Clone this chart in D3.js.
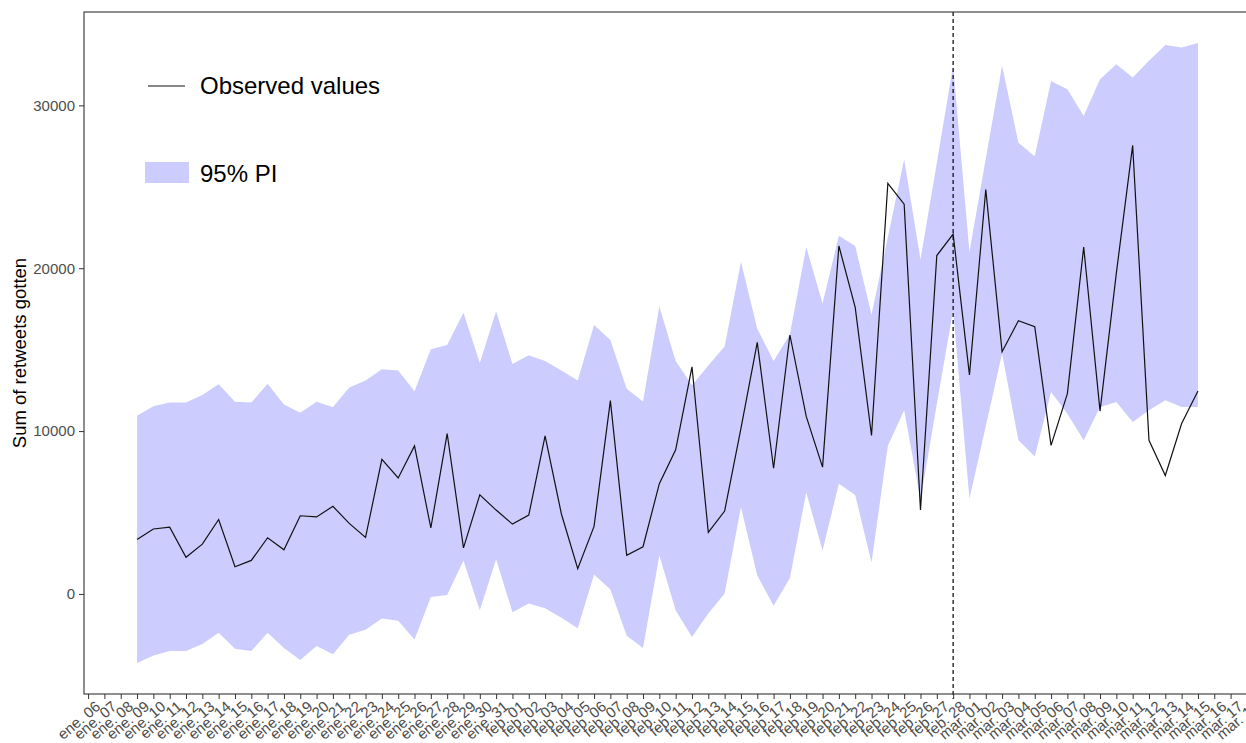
<!DOCTYPE html>
<html>
<head>
<meta charset="utf-8">
<script src="https://cdn.jsdelivr.net/npm/d3@7"></script>
<style>
  body { margin: 0; background: #fff; }
  svg { display: block; }
  text { font-family: "Liberation Sans", Arial, sans-serif; }
</style>
</head>
<body>
<svg id="chart" width="1246" height="743"></svg>
<script>
// Daily series, one value per day from firstDay to lastDay
const firstDay = "2021-01-09";
const lastDay = "2021-03-15";
const cutoffDay = "2021-02-28";
const axisFirst = "2021-01-06";
const axisLast = "2021-03-18";

const observed = [
  3340, 3990, 4100, 2250, 3060, 4570, 1670, 2060, 3450, 2710,
  4800, 4730, 5380, 4330, 3470, 8270, 7120, 9090, 4050, 9850,
  2830, 6080, 5150, 4290, 4840, 9710, 4910, 1550, 4150, 11870,
  2370, 2900, 6770, 8850, 13950, 3780, 5090, 10170, 15450, 7720,
  15900, 10900, 7790, 21370, 17600, 9730, 25210, 23930, 5160, 20780,
  22100, 13450, 24830, 14870, 16780, 16410, 9120, 12300, 21300, 11230,
  19700, 27540, 9430, 7270, 10460, 12460
];

const piUpper = [
  10940, 11520, 11750, 11750, 12220, 12870, 11800, 11750, 12910, 11640,
  11130, 11800, 11470, 12680, 13100, 13790, 13720, 12450, 15030, 15280,
  17270, 14180, 17360, 14120, 14650, 14300, 13720, 13100, 16510, 15600,
  12600, 11820, 17650, 14300, 12820, 14030, 15200, 20400, 16280, 14300,
  15950, 21300, 17830, 22000, 21360, 17150, 21900, 26680, 20540, 26460,
  32450, 21000, 26720, 32430, 27700, 26880, 31500, 30990, 29350, 31610,
  32530, 31710, 32740, 33700, 33560, 33830
];

const piLower = [
  -4240, -3780, -3500, -3500, -3080, -2390, -3360, -3500, -2390, -3320,
  -4050, -3200, -3710, -2500, -2200, -1510, -1650, -2800, -185, -70,
  2060, -1000, 2130, -1120, -580, -880, -1460, -2110, 1200, 280,
  -2570, -3320, 2370, -1000, -2650, -1200, 20, 5330, 1130, -730,
  980, 6230, 2670, 6770, 6070, 1925, 9100, 11280, 5780, 11650,
  17440, 5850, 10290, 14770, 9430, 8440, 12400, 11070, 9430, 11480,
  11790, 10560, 11280, 11890, 11480, 11480
];

const yTicks = [0, 10000, 20000, 30000];
const esShortMonths = ["ene.", "feb.", "mar.", "abr.", "may.", "jun.",
                       "jul.", "ago.", "sept.", "oct.", "nov.", "dic."];
const legendLabels = ["Observed values", "95% PI"];
const yTitle = "Sum of retweets gotten";

const bandColor = "#ccccff";
const tickColor = "#4d4d4d";

const parse = d3.utcParse("%Y-%m-%d");
const days = d3.utcDay.range(parse(firstDay), d3.utcDay.offset(parse(lastDay), 1));
const rows = days.map((d, i) => ({ date: d, obs: observed[i], lo: piLower[i], hi: piUpper[i] }));

// Panel box
const panel = { left: 84, top: 12, right: 1251, bottom: 694 };

// 5% padding on both scales
const t0 = parse(firstDay).getTime(), t1 = parse(lastDay).getTime();
const padT = (t1 - t0) * 0.05;
const x = d3.scaleUtc()
  .domain([new Date(t0 - padT), new Date(t1 + padT)])
  .range([panel.left, panel.right]);

const yMin = d3.min(rows, d => Math.min(d.lo, d.obs));
const yMax = d3.max(rows, d => Math.max(d.hi, d.obs));
const padY = (yMax - yMin) * 0.05;
const y = d3.scaleLinear()
  .domain([yMin - padY, yMax + padY])
  .range([panel.bottom, panel.top]);

const svg = d3.select("#chart");

// Prediction interval band
svg.append("path")
  .datum(rows)
  .attr("fill", bandColor)
  .attr("d", d3.area().x(d => x(d.date)).y0(d => y(d.lo)).y1(d => y(d.hi)));

// Observed series
svg.append("path")
  .datum(rows)
  .attr("fill", "none")
  .attr("stroke", "#111")
  .attr("stroke-width", 1.2)
  .attr("d", d3.line().x(d => x(d.date)).y(d => y(d.obs)));

// Vertical reference line
svg.append("line")
  .attr("x1", x(parse(cutoffDay))).attr("x2", x(parse(cutoffDay)))
  .attr("y1", panel.top).attr("y2", panel.bottom + 5)
  .attr("stroke", "#000")
  .attr("stroke-width", 1.2)
  .attr("stroke-dasharray", "4,3");

// Panel border
svg.append("rect")
  .attr("x", panel.left).attr("y", panel.top)
  .attr("width", panel.right - panel.left)
  .attr("height", panel.bottom - panel.top)
  .attr("fill", "none")
  .attr("stroke", "#333")
  .attr("stroke-width", 1.1);

// Spanish month abbreviations for the date labels
const esLocale = d3.timeFormatLocale({
  dateTime: "%A, %e de %B de %Y, %X", date: "%d/%m/%Y", time: "%H:%M:%S",
  periods: ["AM", "PM"],
  days: ["domingo", "lunes", "martes", "miércoles", "jueves", "viernes", "sábado"],
  shortDays: ["dom", "lun", "mar", "mié", "jue", "vie", "sáb"],
  months: ["enero", "febrero", "marzo", "abril", "mayo", "junio", "julio",
           "agosto", "septiembre", "octubre", "noviembre", "diciembre"],
  shortMonths: esShortMonths
});
const fmtDay = esLocale.utcFormat("%b %d");
const xTickDates = d3.utcDay.range(parse(axisFirst), d3.utcDay.offset(parse(axisLast), 1));

// X axis
const gx = svg.append("g")
  .attr("transform", `translate(0,${panel.bottom})`)
  .call(d3.axisBottom(x).tickValues(xTickDates).tickFormat(fmtDay).tickSize(5).tickSizeOuter(0));
gx.select(".domain").remove();
gx.selectAll(".tick line").attr("stroke", "#333");
gx.selectAll(".tick text")
  .attr("fill", tickColor)
  .attr("font-size", 15)
  .attr("text-anchor", "end")
  .attr("x", 0).attr("y", 0).attr("dy", "0.71em")
  .attr("transform", "translate(6,6) rotate(-40)");

// Y axis
const gy = svg.append("g")
  .attr("transform", `translate(${panel.left},0)`)
  .call(d3.axisLeft(y).tickValues(yTicks).tickFormat(d3.format("d")).tickSize(5).tickPadding(4).tickSizeOuter(0));
gy.select(".domain").remove();
gy.selectAll(".tick line").attr("stroke", "#333");
gy.selectAll(".tick text").attr("fill", tickColor).attr("font-size", 15);

// Y axis title
svg.append("text")
  .attr("transform", `translate(26,${(panel.top + panel.bottom) / 2}) rotate(-90)`)
  .attr("text-anchor", "middle")
  .attr("font-size", 18.5)
  .attr("fill", "#000")
  .text(yTitle);

// Legend
const lg = svg.append("g");
lg.append("line")
  .attr("x1", 148).attr("x2", 185).attr("y1", 86).attr("y2", 86)
  .attr("stroke", "#111").attr("stroke-width", 1.2);
lg.append("text")
  .attr("x", 200).attr("y", 94)
  .attr("font-size", 24).attr("fill", "#000")
  .text(legendLabels[0]);
lg.append("rect")
  .attr("x", 145).attr("y", 162).attr("width", 44).attr("height", 21)
  .attr("fill", bandColor);
lg.append("text")
  .attr("x", 200).attr("y", 182)
  .attr("font-size", 24).attr("fill", "#000")
  .text(legendLabels[1]);
</script>
</body>
</html>
